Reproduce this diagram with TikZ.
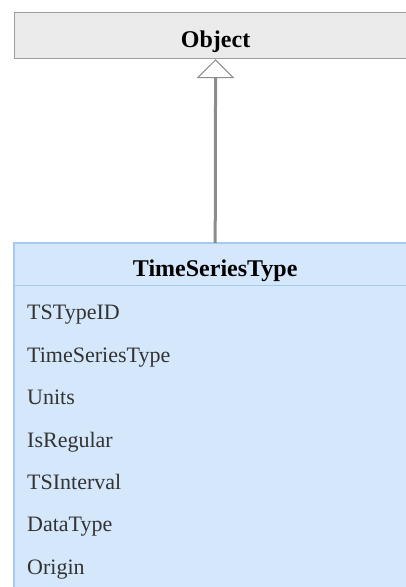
\documentclass[tikz,border=0pt]{standalone}
\usepackage{fontspec}
\setmainfont{Liberation Serif}
\usepackage{xcolor}
\usetikzlibrary{arrows.meta,positioning}
\definecolor{UmlGray}{HTML}{EBEBEB}
\definecolor{UmlGrayLine}{HTML}{9E9E9E}
\definecolor{UmlBlue}{HTML}{D4E7FB}
\definecolor{UmlBlueLine}{HTML}{A6CBF0}
\definecolor{UmlText}{HTML}{333333}
\definecolor{UmlArrow}{HTML}{8C8C8C}
\tikzset{
  basebox/.style={draw=UmlGrayLine,line width=1.2pt,fill=UmlGray,minimum width=402pt,minimum height=46pt,inner sep=0pt,text height=24pt,text depth=0pt,font=\fontsize{24}{26}\selectfont\bfseries},
  classhead/.style={minimum width=402pt,minimum height=42pt,inner sep=0pt,text height=24pt,text depth=0pt,font=\fontsize{24}{26}\selectfont\bfseries},
  classframe/.style={draw=UmlBlueLine,line width=1.2pt,fill=UmlBlue},
  attrtext/.style={text width=376pt,align=left,minimum height=42pt,inner sep=0pt,text height=14pt,text depth=1.4pt,font=\fontsize{22}{24}\selectfont,text=UmlText},
  inherit/.style={-{Triangle[fill=white,line width=1pt,length=19pt,width=38pt]},line width=3pt,draw=UmlArrow}
}
\begin{document}
\begin{tikzpicture}[x=1pt,y=-1pt]
\useasboundingbox (0,0) rectangle (406,587);
\clip (0,0) rectangle (406,587);
% base class
\node[basebox,anchor=north west] (obj) at (14,12) {Object};

% TimeSeriesType class
\draw[classframe] (14,243) rectangle (416,620);
\node[classhead,anchor=north west] (tst) at (14,243) {TimeSeriesType};
\draw[draw=UmlBlueLine,line width=1.2pt] (tst.south west) -- (tst.south east);
\node[attrtext,below=7pt of tst] (a1) {TSTypeID};
\node[attrtext,below=0pt of a1] (a2) {TimeSeriesType};
\node[attrtext,below=0pt of a2] (a3) {Units};
\node[attrtext,below=0pt of a3] (a4) {IsRegular};
\node[attrtext,below=0pt of a4] (a5) {TSInterval};
\node[attrtext,below=0pt of a5] (a6) {DataType};
\node[attrtext,below=0pt of a6] (a7) {Origin};

\draw[inherit] (tst.north) -- (obj.south);
\end{tikzpicture}
\end{document}
